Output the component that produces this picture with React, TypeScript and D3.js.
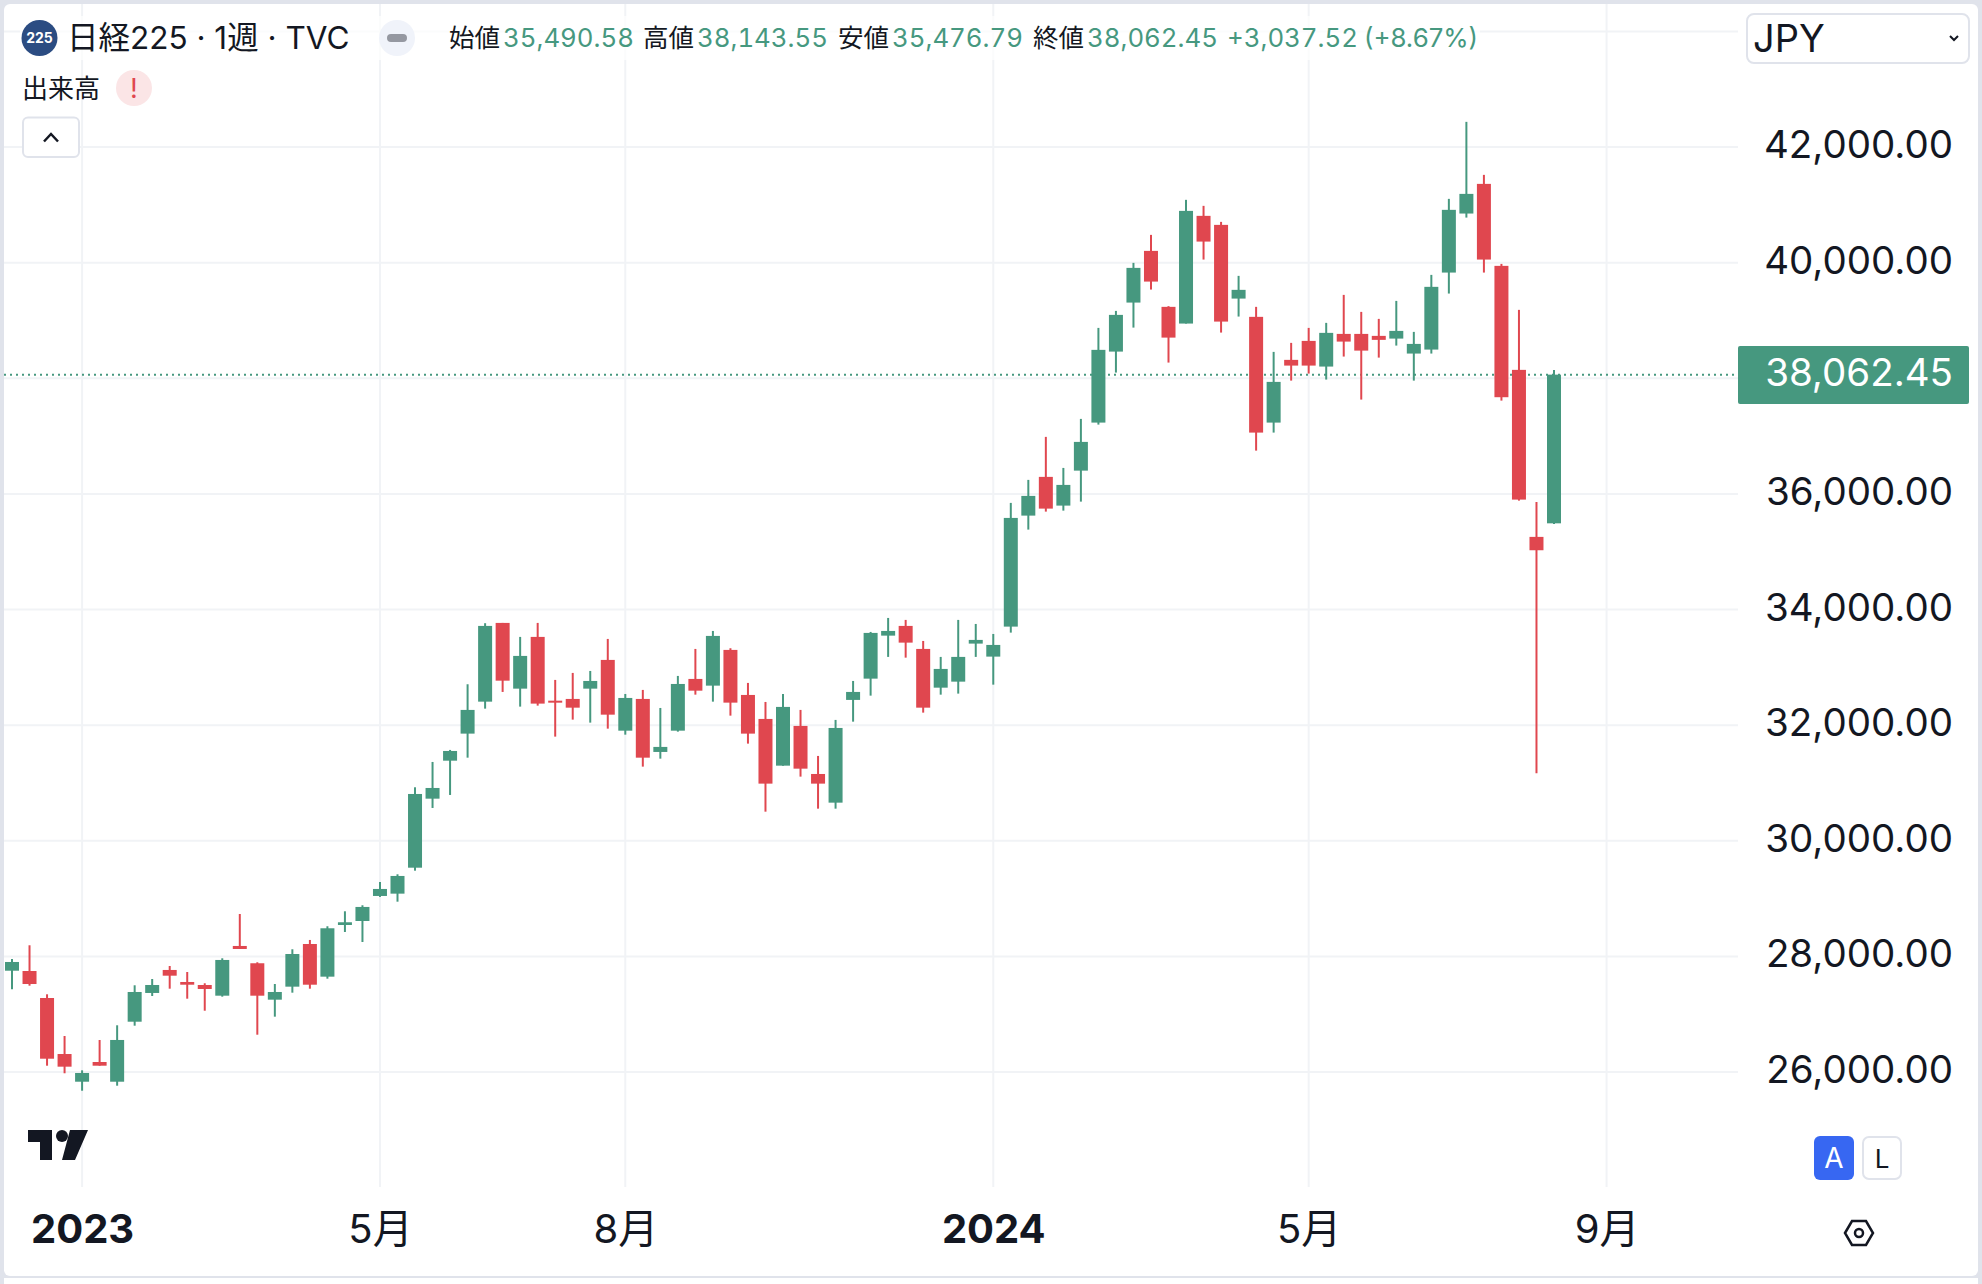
import React, { useRef, useEffect } from 'react';
import * as d3 from 'd3';

// weekly candles
const opens = [27752,27747,27280,26311,25832,26173,25832,26870,27367,27765,27557,27505,27320,28180,27881,27251,27476,28214,27649,28543,28612,29045,29085,29534,30728,31385,31853,32406,33768,32631,33526,32423,32453,32631,33128,31904,32453,31536,31904,32799,32683,33301,32522,32107,31299,31986,31155,30659,32436,32804,33548,33716,33318,32648,32752,33410,33185,33704,35624,36294,35797,36402,37233,38461,39309,40203,39235,38946,40809,40653,39378,39062,37233,38318,38646,38202,38767,38767,38733,38686,38427,38496,39828,40849,41362,39944,38145,35256,35490.58];
const highs = [27955,28192,27344,26623,26029,26554,26808,27500,27609,27834,27730,27535,27967,28733,27898,27522,28123,28284,28521,28780,28884,29287,29420,30925,31363,31571,32707,33763,33768,33526,33768,32782,32903,32937,33491,32539,32609,32297,32851,33318,33629,33330,32730,32401,32539,32263,31467,32090,32764,33612,33854,33820,33456,33180,33820,33750,33577,35844,36242,36986,36449,37297,38871,39165,39996,40480,39247,41086,40982,40705,39771,39235,38456,38612,38871,38958,39442,39148,39027,39338,38802,39788,41103,42435,41518,39978,39183,35861,38143.55];
const lows = [27431,27493,26109,25978,25676,26109,25763,26801,27315,27441,27268,27060,27303,28128,26645,26957,27372,27441,27614,28422,28249,29028,28946,29482,30567,30792,31437,32285,32574,32320,32337,31801,32095,32043,31939,31835,31282,31420,31887,32527,32406,32164,31680,30503,31299,31109,30555,30555,32060,32510,33180,33167,32216,32527,32545,33180,32700,33600,35382,35693,35710,35866,37198,38098,38876,39534,38271,38946,40053,38790,39067,36748,37060,37959,38081,37977,38375,37631,38357,38565,37959,38427,39465,40779,39828,37613,35883,31168,35476.79];
const closes = [27903,27522,26230,26092,25983,26109,26554,27384,27505,27666,27510,27436,27938,28128,27320,27384,28041,27510,28486,28590,28855,29166,29391,30809,30913,31553,32263,33716,32769,33197,32372,32389,32302,32764,32181,32470,31437,31623,32712,32596,33543,32389,31853,30988,32315,31247,30988,31951,32574,33595,33629,33427,32302,32972,33180,33474,33387,35584,35965,35745,36155,36899,38491,39096,39909,39672,38703,40895,40364,38980,39529,37060,37937,38219,38219,38785,38634,38478,38664,38819,38594,39581,40913,41189,40053,37672,35901,35025,38062.45];

// 38,000 sits under the last price tag, so it has no label of its own
const priceTicks = [26000,28000,30000,32000,34000,36000,40000,42000];
const gridPrices = [26000,28000,30000,32000,34000,36000,38000,40000,42000,44000];
const timeTicks = [4,21,35,56,74,91];
const timeLabels = ['2023','5月','8月','2024','5月','9月'];
const yearTicks = ['2023','2024'];

const legendHead = '日経225 · 1週 · TVC';
const legendLabels = ['始値','高値','安値','終値'];
const legendValues = ['35,490.58','38,143.55','35,476.79','38,062.45'];
const lastPrice = 38062.45;
const lastChange = '+3,037.52';
const lastPct = '(+8.67%)';

const GREEN = '#46987f';
const RED = '#e0474f';
const INK = '#131722';
const FRAME = '#e0e3eb';
const GRID = '#f1f3f6';
const FONT = 'Inter, "Noto Sans CJK JP", sans-serif';

export default function App() {
  const ref = useRef<SVGSVGElement>(null);

  useEffect(() => {
    if (!ref.current) return;
    document.body.style.margin = '0';
    const svg = d3.select(ref.current);
    svg.selectAll('*').remove();
    svg.style('font-family', FONT);

    const width = 1982;
    const height = 1284;
    const axisLeft = 1738;
    const plotBottom = 1187;

    const x = d3.scaleLinear().domain([0, 88]).range([12, 1554]);
    const y = d3.scaleLinear().domain([26000, 42000]).range([1072, 147]);

    // frame
    svg.append('rect').attr('width', width).attr('height', height).attr('fill', FRAME);
    svg.append('rect').attr('x', 4).attr('y', 4).attr('width', width - 8).attr('height', 1272)
      .attr('rx', 6).attr('fill', '#fff');
    svg.append('rect').attr('x', 4).attr('y', 1278).attr('width', width - 8).attr('height', 6).attr('fill', '#fff');

    // grid
    svg.append('g').selectAll('line').data(gridPrices).join('line')
      .attr('x1', 4).attr('x2', axisLeft)
      .attr('y1', d => y(d)).attr('y2', d => y(d))
      .attr('stroke', GRID).attr('stroke-width', 2);
    svg.append('g').selectAll('line').data(timeTicks).join('line')
      .attr('x1', d => x(d)).attr('x2', d => x(d))
      .attr('y1', 4).attr('y2', plotBottom)
      .attr('stroke', GRID).attr('stroke-width', 2);

    // last price dotted line
    svg.append('line')
      .attr('x1', 4).attr('x2', axisLeft)
      .attr('y1', y(lastPrice)).attr('y2', y(lastPrice))
      .attr('stroke', GREEN).attr('stroke-width', 2).attr('stroke-dasharray', '2 4');

    // candles
    const idx = d3.range(opens.length);
    const color = (i: number) => (closes[i] >= opens[i] ? GREEN : RED);
    const candles = svg.append('g');
    candles.selectAll('line').data(idx).join('line')
      .attr('x1', i => x(i)).attr('x2', i => x(i))
      .attr('y1', i => y(highs[i])).attr('y2', i => y(lows[i]))
      .attr('stroke', color).attr('stroke-width', 2);
    candles.selectAll('rect').data(idx).join('rect')
      .attr('x', i => x(i) - 7).attr('width', 14)
      .attr('y', i => y(Math.max(opens[i], closes[i])))
      .attr('height', i => Math.max(2, Math.abs(y(opens[i]) - y(closes[i]))))
      .attr('fill', color);

    // price axis
    const yAxis = svg.append('g').attr('transform', 'translate(1953,0)')
      .call(d3.axisRight(y).tickValues(priceTicks).tickSize(0).tickFormat(d3.format(',.2f') as any));
    yAxis.select('.domain').remove();
    yAxis.selectAll('text')
      .attr('x', 0).attr('dy', null).attr('y', 10.5)
      .attr('text-anchor', 'end')
      .attr('font-size', 38.5).attr('font-family', FONT).attr('fill', INK);

    // last price label
    svg.append('rect').attr('x', axisLeft).attr('y', 346).attr('width', 231).attr('height', 58)
      .attr('rx', 2).attr('fill', GREEN);
    svg.append('text').attr('x', 1953).attr('y', y(lastPrice) + 11)
      .attr('text-anchor', 'end').attr('font-size', 38.5).attr('fill', '#fff')
      .text(d3.format(',.2f')(lastPrice));

    // time axis
    const xAxis = svg.append('g').attr('transform', 'translate(0,1243)')
      .call(d3.axisBottom(x).tickValues(timeTicks).tickSize(0)
        .tickFormat((_, i) => timeLabels[i]));
    xAxis.select('.domain').remove();
    xAxis.selectAll('text')
      .attr('y', 0).attr('dy', null)
      .attr('text-anchor', 'middle')
      .attr('font-size', 40).attr('font-family', FONT).attr('fill', INK)
      .attr('font-weight', (d, i) => (yearTicks.includes(timeLabels[i]) ? 700 : 400));

    // legend
    svg.append('rect').attr('x', 20).attr('y', 16).attr('width', 1460).attr('height', 44)
      .attr('fill', '#fff').attr('opacity', 0.7);
    svg.append('circle').attr('cx', 39.5).attr('cy', 38).attr('r', 18).attr('fill', '#2b4c82');
    svg.append('text').attr('x', 39.5).attr('y', 43).attr('text-anchor', 'middle')
      .attr('font-size', 14).attr('font-weight', 700).attr('fill', '#fff').text('225');
    svg.append('text').attr('x', 67).attr('y', 49).attr('font-size', 31.5).attr('fill', INK).text(legendHead);
    svg.append('circle').attr('cx', 397).attr('cy', 38).attr('r', 18).attr('fill', '#f0f3fa');
    svg.append('rect').attr('x', 387).attr('y', 34).attr('width', 20).attr('height', 8).attr('rx', 4).attr('fill', '#9598a1');

    const labelX = [449, 643, 838, 1033];
    const valueX = [503, 697, 892, 1087];
    legendLabels.forEach((t, i) => {
      svg.append('text').attr('x', labelX[i]).attr('y', 47).attr('font-size', 25.5).attr('fill', INK).text(t);
      svg.append('text').attr('x', valueX[i]).attr('y', 47).attr('font-size', 25.8).attr('fill', GREEN)
        .style('font-variant-numeric', 'tabular-nums').text(legendValues[i]);
    });
    svg.append('text').attr('x', 1227).attr('y', 47).attr('font-size', 25.8).attr('fill', GREEN)
      .style('font-variant-numeric', 'tabular-nums').text(lastChange);
    svg.append('text').attr('x', 1364).attr('y', 47).attr('font-size', 25.8).attr('fill', GREEN).text(lastPct);

    svg.append('text').attr('x', 22).attr('y', 98).attr('font-size', 26).attr('fill', INK).text('出来高');
    svg.append('circle').attr('cx', 134).attr('cy', 88).attr('r', 18).attr('fill', '#fbe5e6');
    svg.append('text').attr('x', 134).attr('y', 98).attr('text-anchor', 'middle')
      .attr('font-size', 27).attr('font-weight', 400).attr('fill', '#e0474f').text('!');

    svg.append('rect').attr('x', 23).attr('y', 117.5).attr('width', 56).attr('height', 39.5).attr('rx', 5)
      .attr('fill', '#fff').attr('stroke', FRAME).attr('stroke-width', 2);
    svg.append('path').attr('d', 'M44 141.5 L51 134 L58 141.5').attr('fill', 'none')
      .attr('stroke', INK).attr('stroke-width', 2.5);

    // currency box
    svg.append('rect').attr('x', 1747).attr('y', 14).attr('width', 222).attr('height', 49).attr('rx', 7)
      .attr('fill', '#fff').attr('stroke', FRAME).attr('stroke-width', 2);
    svg.append('text').attr('x', 1753).attr('y', 52).attr('font-size', 38).attr('fill', INK).text('JPY');
    svg.append('path').attr('d', 'M1950 36 L1954 40 L1958 36').attr('fill', 'none')
      .attr('stroke', INK).attr('stroke-width', 2);

    // logo
    svg.append('path').attr('d', 'M28 1130H52V1160H40V1142H28Z M70 1130H88L75 1160H62Z').attr('fill', INK);
    svg.append('circle').attr('cx', 62).attr('cy', 1136).attr('r', 6).attr('fill', INK);

    // A / L buttons
    svg.append('rect').attr('x', 1814).attr('y', 1136).attr('width', 40).attr('height', 44).attr('rx', 6).attr('fill', '#3767f2');
    svg.append('text').attr('x', 1834).attr('y', 1168).attr('text-anchor', 'middle').attr('font-size', 28).attr('fill', '#fff').text('A');
    svg.append('rect').attr('x', 1863).attr('y', 1137).attr('width', 38).attr('height', 42).attr('rx', 6)
      .attr('fill', '#fff').attr('stroke', FRAME).attr('stroke-width', 2);
    svg.append('text').attr('x', 1882).attr('y', 1168).attr('text-anchor', 'middle').attr('font-size', 26).attr('fill', INK).text('L');

    // settings hexagon
    svg.append('path').attr('d', 'M1845 1233L1852 1221H1866L1873 1233L1866 1245H1852Z')
      .attr('fill', 'none').attr('stroke', INK).attr('stroke-width', 2.5);
    svg.append('circle').attr('cx', 1859).attr('cy', 1233).attr('r', 4).attr('fill', 'none')
      .attr('stroke', INK).attr('stroke-width', 2.5);
  }, []);

  return <svg ref={ref} width={1982} height={1284} style={{ display: 'block' }} />;
}
